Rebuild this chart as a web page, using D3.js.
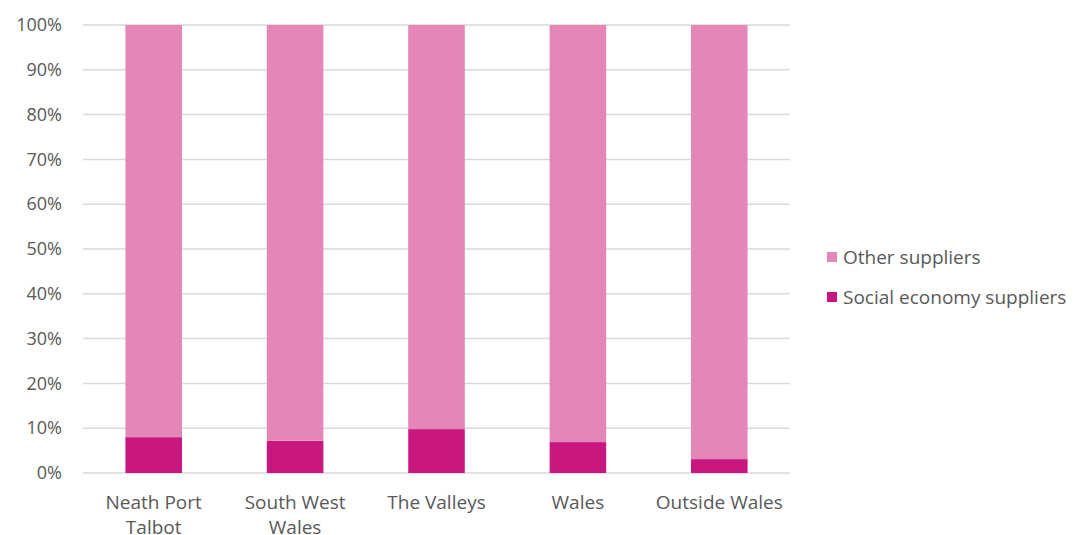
<!DOCTYPE html>
<html>
<head>
<meta charset="utf-8">
<script src="https://cdn.jsdelivr.net/npm/d3@7"></script>
<style>
  body { margin: 0; background: #fff; }
  text { font-family: "Open Sans", sans-serif; fill: #595959; }
</style>
</head>
<body>
<div id="chart-area"></div>
<script>
var categories = [["Neath Port", "Talbot"], ["South West", "Wales"], ["The Valleys"], ["Wales"], ["Outside Wales"]]
var socialValues = [8.0, 7.2, 9.8, 6.9, 3.1]
var otherValues = [92.0, 92.8, 90.2, 93.1, 96.9]
var seriesNames = ["Other suppliers", "Social economy suppliers"]
var colours = ["#e587b6", "#c8177f"]
var yTicks = [0, 10, 20, 30, 40, 50, 60, 70, 80, 90, 100]

var margin = {"left": 83, "right": 300, "top": 25, "bottom": 62}
const WIDTH = 1090
const HEIGHT = 535
const GRAPH_WIDTH = WIDTH - margin.left - margin.right
const GRAPH_HEIGHT = HEIGHT - margin.top - margin.bottom

var svg = d3.select('#chart-area').append("svg")
    .attr("width", WIDTH)
    .attr("height", HEIGHT)

var g = svg.append("g")
    .attr("transform", "translate(" + margin.left + "," + margin.top + ")")

var names = categories.map(function(c){ return c.join(" ") })

var xScale = d3.scaleBand()
    .domain(names)
    .range([0, GRAPH_WIDTH])
    .paddingInner(0.6)
    .paddingOuter(0.3)

var yScale = d3.scaleLinear()
    .domain([0, 100])
    .range([GRAPH_HEIGHT, 0])

// grid lines
g.append("g").selectAll("line")
    .data(yTicks)
    .enter().append("line")
    .attr("x1", 0)
    .attr("x2", GRAPH_WIDTH)
    .attr("y1", function(d){ return yScale(d) })
    .attr("y2", function(d){ return yScale(d) })
    .attr("stroke", "#d9d9d9")
    .attr("stroke-width", 1.5)

// y axis
var yAxisGroup = g.append("g")
    .call(d3.axisLeft(yScale).tickValues(yTicks).tickSize(0).tickPadding(21)
        .tickFormat(function(d){ return d + "%" }))
yAxisGroup.select(".domain").remove()
yAxisGroup.selectAll("text")
    .attr("font-size", "18px")
    .attr("font-family", "Open Sans, sans-serif")
    .attr("fill", "#595959")

// stacked bars
var rows = names.map(function(n, i){
    return {name: n, social: socialValues[i], other: otherValues[i]}
})
var stack = d3.stack().keys(["social", "other"])(rows)
var keyColour = {"social": colours[1], "other": colours[0]}

g.selectAll("g.layer")
    .data(stack)
    .enter().append("g")
    .attr("class", "layer")
    .attr("fill", function(d){ return keyColour[d.key] })
    .selectAll("rect")
    .data(function(d){ return d })
    .enter().append("rect")
    .attr("x", function(d){ return xScale(d.data.name) })
    .attr("width", xScale.bandwidth())
    .attr("y", function(d){ return yScale(d[1]) })
    .attr("height", function(d){ return yScale(d[0]) - yScale(d[1]) })

// category labels
var xLabels = g.append("g")
    .selectAll("text")
    .data(categories)
    .enter().append("text")
    .attr("text-anchor", "middle")
    .attr("font-size", "19px")
    .attr("x", function(d, i){ return xScale(names[i]) + xScale.bandwidth() / 2 })
    .attr("y", GRAPH_HEIGHT + 36)
xLabels.selectAll("tspan")
    .data(function(d){ return d })
    .enter().append("tspan")
    .attr("x", function(){ return d3.select(this.parentNode).attr("x") })
    .attr("dy", function(d, j){ return j === 0 ? 0 : 25 })
    .text(function(d){ return d })

// legend
var legend = svg.append("g")
    .attr("transform", "translate(827,252)")
seriesNames.forEach(function(name, i){
    var legendRow = legend.append("g")
        .attr("transform", "translate(0," + (i * 40) + ")")
    legendRow.append("rect")
        .attr("width", 10)
        .attr("height", 10)
        .attr("fill", colours[i])
    legendRow.append("text")
        .attr("x", 16)
        .attr("y", 12)
        .attr("font-size", "19px")
        .text(name)
})
</script>
</body>
</html>
